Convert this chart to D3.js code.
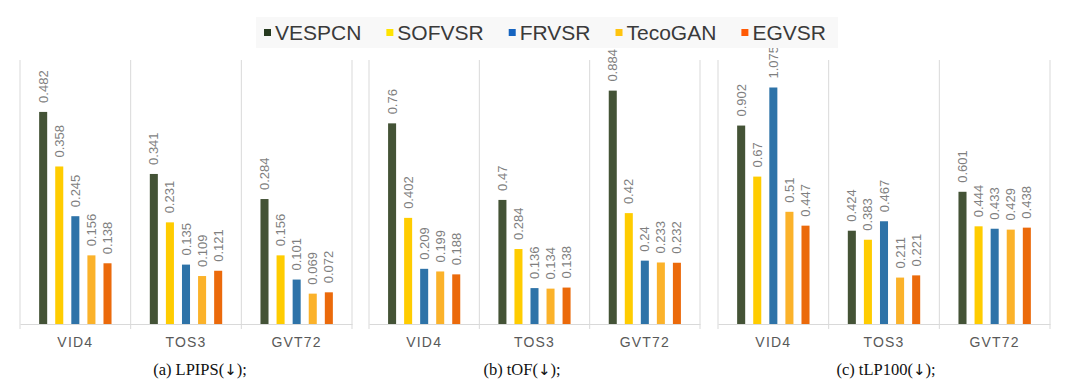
<!DOCTYPE html>
<html lang="en">
<head>
<meta charset="UTF-8">
<title>VSR metrics</title>
<script src="https://cdn.jsdelivr.net/npm/d3@7"></script>
<style>
  body { margin: 0; background: #fff; }
  svg text { font-family: "Liberation Sans", Arial, sans-serif; }
  .val { fill: #7f7f7f; font-size: 13px; }
  .cat text { fill: #595959; font-size: 14px; letter-spacing: 1.2px; }
  .cat .domain { stroke: #d9d9d9; }
  .sep { stroke: #d9d9d9; stroke-width: 1; }
  .caption { font-family: "Liberation Serif", "Times New Roman", serif; font-size: 16.5px; fill: #111; }
  .caption .arr { font-family: "DejaVu Sans", sans-serif; font-size: 15px; fill: #111; }
  .legend text { fill: #3a3a3a; font-size: 21px; }
</style>
</head>
<body>
<div id="chart"></div>
<script>
// data
var categories = ["VID4", "TOS3", "GVT72"];
var series = ["VESPCN", "SOFVSR", "FRVSR", "TecoGAN", "EGVSR"];
var lpips  = [[0.482, 0.358, 0.245, 0.156, 0.138], [0.341, 0.231, 0.135, 0.109, 0.121], [0.284, 0.156, 0.101, 0.069, 0.072]];
var tof    = [[0.76, 0.402, 0.209, 0.199, 0.188], [0.47, 0.284, 0.136, 0.134, 0.138], [0.884, 0.42, 0.24, 0.233, 0.232]];
var tlp100 = [[0.902, 0.67, 1.075, 0.51, 0.447], [0.424, 0.383, 0.467, 0.211, 0.221], [0.601, 0.444, 0.433, 0.429, 0.438]];
var yMax = [0.6, 1.0, 1.2];
var captions = ["(a) LPIPS", "(b) tOF", "(c) tLP100"];

var barColors = ["#445336", "#ffcc00", "#2e73a8", "#fbb22a", "#eb6a0b"];
var legendColors = ["#263a1f", "#ffe400", "#1664c0", "#ffc40e", "#ff5a05"];

var svg = d3.select("#chart").append("svg")
    .attr("width", 1080).attr("height", 389);

var yTop = 60, base = 324;
var panels = [
  {data: lpips,  x0: 20,  x1: 352,  capX: 200},
  {data: tof,    x0: 369, x1: 700,  capX: 522},
  {data: tlp100, x0: 718, x1: 1050, capX: 886}
];

panels.forEach(function(p, i) {
  var g = svg.append("g");
  var x = d3.scaleBand().domain(categories).range([p.x0, p.x1]);
  var xs = d3.scaleBand().domain(series).range([0, x.bandwidth()])
      .paddingInner(0.5).paddingOuter(1.19);
  var y = d3.scaleLinear().domain([0, yMax[i]]).range([base, yTop]);

  // separators
  var edges = categories.map(function(c) { return x(c); }).concat([p.x1]);
  g.selectAll(".sep").data(edges).enter().append("line")
    .attr("class", "sep")
    .attr("x1", function(d) { return d; }).attr("x2", function(d) { return d; })
    .attr("y1", yTop).attr("y2", base + 5);

  g.append("g")
    .attr("class", "cat")
    .attr("transform", "translate(0," + base + ")")
    .call(d3.axisBottom(x).tickSize(0).tickSizeOuter(0).tickPadding(13))
    .call(function(a) { a.selectAll(".tick line").remove(); });

  var grp = g.selectAll(".grp").data(p.data).enter().append("g")
    .attr("transform", function(d, k) { return "translate(" + x(categories[k]) + ",0)"; });

  grp.selectAll("rect").data(function(d) { return d; }).enter().append("rect")
    .attr("x", function(d, j) { return xs(series[j]); })
    .attr("width", xs.bandwidth())
    .attr("y", function(d) { return y(d); })
    .attr("height", function(d) { return base - y(d); })
    .attr("fill", function(d, j) { return barColors[j]; });

  grp.selectAll(".val").data(function(d) { return d; }).enter().append("text")
    .attr("class", "val")
    .attr("transform", function(d, j) {
      return "translate(" + (xs(series[j]) + xs.bandwidth() / 2) + "," + (y(d) - 9) + ") rotate(-90)";
    })
    .attr("dy", "0.35em")
    .text(function(d) { return String(d); });

  var cap = svg.append("text")
    .attr("class", "caption")
    .attr("x", p.capX).attr("y", 375)
    .attr("text-anchor", "middle");
  cap.append("tspan").text(captions[i] + "(");
  cap.append("tspan").attr("class", "arr").text("\u2193");
  cap.append("tspan").text(");");
});

// legend on top
var lg = svg.append("g").attr("class", "legend");
lg.append("rect").attr("x", 256).attr("y", 17).attr("width", 582).attr("height", 31)
  .attr("fill", "#f8f8f8");
var lx = 264;
series.forEach(function(s, j) {
  lg.append("rect").attr("x", lx).attr("y", 29).attr("width", 7).attr("height", 7)
    .attr("fill", legendColors[j]);
  var t = lg.append("text").attr("x", lx + 11).attr("y", 39.5).text(s);
  lx += 11 + t.node().getComputedTextLength() + 25;
});
</script>
</body>
</html>
